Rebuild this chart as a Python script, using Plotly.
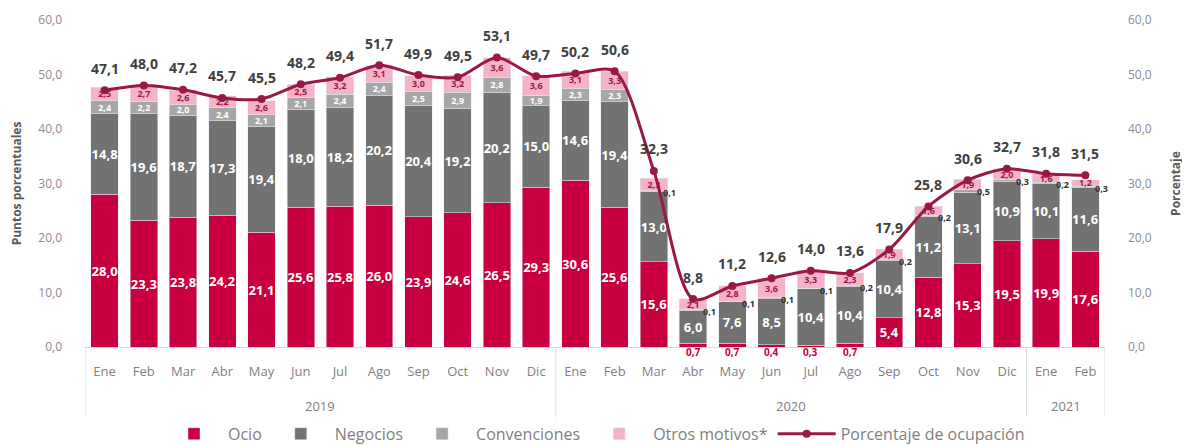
import plotly.graph_objects as go

years = ["2019"] * 12 + ["2020"] * 12 + ["2021"] * 2
months = ["Ene", "Feb", "Mar", "Abr", "May", "Jun", "Jul", "Ago", "Sep", "Oct", "Nov", "Dic",
          "Ene", "Feb", "Mar", "Abr", "May", "Jun", "Jul", "Ago", "Sep", "Oct", "Nov", "Dic",
          "Ene", "Feb"]

ocio = [28.0, 23.3, 23.8, 24.2, 21.1, 25.6, 25.8, 26.0, 23.9, 24.6, 26.5, 29.3,
        30.6, 25.6, 15.6, 0.7, 0.7, 0.4, 0.3, 0.7, 5.4, 12.8, 15.3, 19.5,
        19.9, 17.6]
negocios = [14.8, 19.6, 18.7, 17.3, 19.4, 18.0, 18.2, 20.2, 20.4, 19.2, 20.2, 15.0,
            14.6, 19.4, 13.0, 6.0, 7.6, 8.5, 10.4, 10.4, 10.4, 11.2, 13.1, 10.9,
            10.1, 11.6]
convenciones = [2.4, 2.2, 2.0, 2.4, 2.1, 2.1, 2.4, 2.4, 2.5, 2.9, 2.8, 1.9,
                2.3, 2.3, 0.1, 0.1, 0.1, 0.1, 0.1, 0.2, 0.2, 0.2, 0.5, 0.3,
                0.2, 0.3]
otros = [2.5, 2.7, 2.6, 2.2, 2.6, 2.5, 3.2, 3.1, 3.0, 3.2, 3.6, 3.6,
         3.1, 3.3, 2.3, 2.1, 2.8, 3.6, 3.3, 2.3, 1.9, 1.6, 1.9, 2.0,
         1.6, 1.2]
ocupacion = [47.1, 48.0, 47.2, 45.7, 45.5, 48.2, 49.4, 51.7, 49.9, 49.5, 53.1, 49.7,
             50.2, 50.6, 32.3, 8.8, 11.2, 12.6, 14.0, 13.6, 17.9, 25.8, 30.6, 32.7,
             31.8, 31.5]
y_ticks = [0, 10, 20, 30, 40, 50, 60]

C_OCIO = "#C8003F"
C_NEG = "#727272"
C_CONV = "#A6A6A6"
C_OTROS = "#F5B3CA"
C_LINE = "#9A1846"
FONT = "Open Sans"

x = [f"{m} {y}" for m, y in zip(months, years)]


def fmt(v):
    return f"{v:.1f}".replace(".", ",")


fig = go.Figure()

fig.add_trace(go.Bar(
    x=x, y=ocio, name="Ocio", marker_color=C_OCIO,
    text=[fmt(v) if v >= 3 else "" for v in ocio],
    textposition="inside", insidetextanchor="middle", textangle=0, constraintext="none",
    textfont=dict(family=FONT, size=13, color="white", weight="bold"),
))
fig.add_trace(go.Bar(
    x=x, y=negocios, name="Negocios", marker_color=C_NEG,
    text=[fmt(v) for v in negocios],
    textposition="inside", insidetextanchor="middle", textangle=0, constraintext="none",
    textfont=dict(family=FONT, size=13, color="white", weight="bold"),
))
fig.add_trace(go.Bar(
    x=x, y=convenciones, name="Convenciones", marker_color=C_CONV,
    text=[fmt(v) if v >= 1 else "" for v in convenciones],
    textposition="inside", insidetextanchor="middle", textangle=0, constraintext="none",
    textfont=dict(family=FONT, size=9, color="white", weight="bold"),
))
fig.add_trace(go.Bar(
    x=x, y=otros, name="Otros motivos*", marker_color=C_OTROS,
    text=[fmt(v) for v in otros],
    textposition="inside", insidetextanchor="middle", textangle=0, constraintext="none",
    textfont=dict(family=FONT, size=9, color=C_LINE, weight="bold"),
))
fig.add_trace(go.Scatter(
    x=x, y=ocupacion, name="Porcentaje de ocupación", yaxis="y2",
    mode="lines+markers", line=dict(color=C_LINE, width=3, shape="spline", smoothing=0.8),
    marker=dict(color=C_LINE, size=8),
))

ann = []
# occupancy labels
for xi, v in zip(x, ocupacion):
    ann.append(dict(x=xi, y=v, xref="x", yref="y2", text=fmt(v), showarrow=False,
                    yshift=22, font=dict(family=FONT, size=14, color="#404040", weight="bold")))
# small ocio values below the axis
for xi, v in zip(x, ocio):
    if v < 3:
        ann.append(dict(x=xi, y=0, xref="x", yref="y", text=fmt(v), showarrow=False,
                        yshift=-5, font=dict(family=FONT, size=10, color=C_OCIO, weight="bold")))
# small convenciones values beside the bar
for xi, o, n, c in zip(x, ocio, negocios, convenciones):
    if c < 1:
        ann.append(dict(x=xi, y=o + n + c, xref="x", yref="y", text=fmt(c), showarrow=False,
                        xshift=16, yshift=-2, font=dict(family=FONT, size=9, color="#333333", weight="bold")))
# year labels
for yr in dict.fromkeys(years):
    idx = [i for i, y in enumerate(years) if y == yr]
    ann.append(dict(x=(idx[0] + idx[-1]) / 2, y=-0.18, xref="x", yref="paper", yanchor="middle",
                    text=yr, showarrow=False, font=dict(family=FONT, size=13, color="#7F7F7F")))

shapes = []
bounds = [-0.5] + [i + 0.5 for i in range(len(years) - 1) if years[i] != years[i + 1]] + [len(years) - 0.5]
for b in bounds:
    shapes.append(dict(type="line", xref="x", yref="paper", x0=b, x1=b, y0=0, y1=-0.214,
                       line=dict(color="#D9D9D9", width=1)))

fig.update_layout(
    width=1190, height=445,
    margin=dict(l=77, r=93, t=12, b=106),
    paper_bgcolor="white", plot_bgcolor="white",
    barmode="stack", bargap=0.3,
    separators=", ",
    font=dict(family=FONT, size=12, color="#7F7F7F"),
    showlegend=True,
    legend=dict(orientation="h", x=0.5, xanchor="center", xref="paper",
                y=0.043, yanchor="middle", yref="container",
                itemwidth=58,
                font=dict(family=FONT, size=16, color="#7F7F7F"), traceorder="normal"),
    annotations=ann, shapes=shapes,
    xaxis=dict(type="category", tickvals=x, ticktext=months, showgrid=False, automargin=False,
               range=[-0.5, len(x) - 0.5],
               showline=True, linecolor="#D9D9D9", ticks="", ticklabelstandoff=12,
               tickfont=dict(family=FONT, size=13, color="#7F7F7F")),
    yaxis=dict(range=[0, 60], tickvals=y_ticks, tickformat=".1f", showgrid=False, zeroline=False,
               automargin=False,
               ticks="", ticklabelstandoff=22, tickfont=dict(family=FONT, size=12, color="#8C8C8C"),
               title=dict(text="<b>Puntos porcentuales</b>", standoff=14,
                          font=dict(family=FONT, size=12, color="#595959"))),
    yaxis2=dict(range=[0, 60], tickvals=y_ticks, tickformat=".1f", overlaying="y", side="right",
                showgrid=False, zeroline=False, ticks="", ticklabelstandoff=22, automargin=False,
                tickfont=dict(family=FONT, size=12, color="#8C8C8C"),
                title=dict(text="<b>Porcentaje</b>", standoff=20,
                           font=dict(family=FONT, size=12, color="#595959"))),
)

fig.write_html("out.html")
